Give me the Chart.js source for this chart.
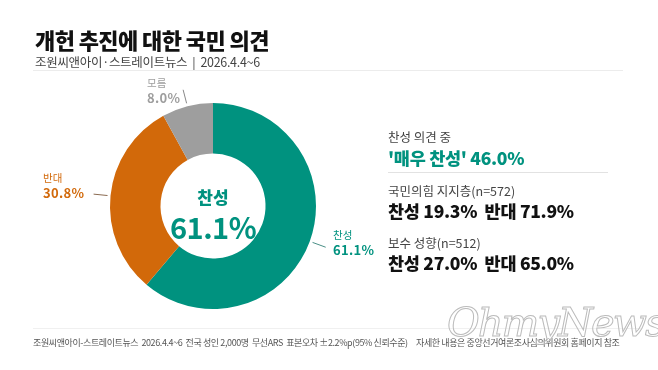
<!DOCTYPE html>
<html><head><meta charset="utf-8">
<script src="https://cdn.jsdelivr.net/npm/chart.js@4/dist/chart.umd.min.js"></script>
<style>
html,body{margin:0;padding:0;background:#fff;}
body{width:658px;height:370px;position:relative;overflow:hidden;font-family:"Noto Sans CJK KR","Noto Sans",sans-serif;}
.t{position:absolute;white-space:pre;line-height:1;}
#c{position:absolute;left:0;top:0;}
</style></head>
<body>
<canvas id="c" width="658" height="370"></canvas>
<div class="t" id="title" style="left:35px;top:28px;font-size:22px;font-weight:900;color:#111;letter-spacing:-0.6px;"></div>
<div class="t" id="sub" style="left:35px;top:56px;font-size:12.5px;color:#444;letter-spacing:-0.3px;"></div>
<div style="position:absolute;left:33px;top:70px;width:590px;height:1px;background:#ececec;"></div>
<div id="labels"></div>
<div class="t" id="cLab" style="left:213px;top:188px;transform:translateX(-50%);font-size:17px;font-weight:900;color:#00927F;"></div>
<div class="t" id="cVal" style="left:213px;top:212px;transform:translateX(-50%);font-size:29px;font-weight:700;color:#00927F;letter-spacing:-0.5px;"></div>
<div id="panel"></div>
<div style="position:absolute;left:388px;top:172px;width:220px;height:1px;background:#e2e2e2;"></div>
<div style="position:absolute;left:33px;top:328px;width:608px;height:1px;background:#f0f0f0;"></div>
<div class="t" id="foot1" style="left:33px;top:338px;font-size:9px;color:#555;letter-spacing:-0.4px;"></div>
<div class="t" id="foot2" style="left:416px;top:338px;font-size:9px;color:#555;letter-spacing:-0.4px;"></div>
<div class="t" style="left:447px;top:302px;font-size:40px;font-style:italic;font-family:'DejaVu Serif',serif;color:rgba(255,255,255,0.2);-webkit-text-stroke:1px #bbb;letter-spacing:-2px;">OhmyNews</div>
<script>
const titleText = '개헌 추진에 대한 국민 의견';
const subtitleText = '조원씨앤아이·스트레이트뉴스  |  2026.4.4~6';
const categories = ['찬성', '반대', '모름'];
const values = [61.1, 30.8, 8.0];
const colors = ['#00927F', '#D2690A', '#9E9E9E'];
const panelHeads = ['찬성 의견 중', '국민의힘 지지층(n=572)', '보수 성향(n=512)'];
const panelLines = ["'매우 찬성' 46.0%", '찬성 19.3%  반대 71.9%', '찬성 27.0%  반대 65.0%'];
const footLeft = '조원씨앤아이-스트레이트뉴스  2026.4.4~6  전국 성인 2,000명  무선ARS  표본오차 ±2.2%p(95% 신뢰수준)';
const footRight = '자세한 내용은 중앙선거여론조사심의위원회 홈페이지 참조';

document.getElementById('title').textContent = titleText;
document.getElementById('sub').textContent = subtitleText;
document.getElementById('cLab').textContent = categories[0];
document.getElementById('cVal').textContent = values[0].toFixed(1) + '%';
document.getElementById('foot1').textContent = footLeft;
document.getElementById('foot2').textContent = footRight;

const panel = document.getElementById('panel');
const headTops = [131, 185, 237];
const lineTops = [149, 202, 254];
panelHeads.forEach((h, i) => {
  const d = document.createElement('div');
  d.className = 't';
  d.style.cssText = `left:388px;top:${headTops[i]}px;font-size:12.5px;color:#444;`;
  d.textContent = h;
  panel.appendChild(d);
  const e = document.createElement('div');
  e.className = 't';
  e.style.cssText = `left:388px;top:${lineTops[i]}px;font-size:17.5px;font-weight:900;color:${i === 0 ? '#00927F' : '#111'};letter-spacing:-0.3px;`;
  e.textContent = panelLines[i];
  panel.appendChild(e);
});

const labelPos = [
  {left: 333, top: 230},
  {left: 43, top: 173},
  {left: 147, top: 78}
];
const labelsDiv = document.getElementById('labels');
categories.forEach((c, i) => {
  const p = labelPos[i];
  const a = document.createElement('div');
  a.className = 't';
  a.style.cssText = `left:${p.left}px;top:${p.top}px;font-size:10.5px;color:${colors[i]};`;
  a.textContent = c;
  labelsDiv.appendChild(a);
  const b = document.createElement('div');
  b.className = 't';
  b.style.cssText = `left:${p.left}px;top:${p.top + 13}px;font-size:13px;font-weight:700;color:${colors[i]};letter-spacing:0.3px;`;
  b.textContent = values[i].toFixed(1) + '%';
  labelsDiv.appendChild(b);
});

const leaderPlugin = {
  id: 'leaders',
  afterDatasetsDraw(chart) {
    const ctx = chart.ctx;
    const meta = chart.getDatasetMeta(0);
    meta.data.forEach((arc, i) => {
      const p = arc.getProps(['x', 'y', 'startAngle', 'endAngle', 'outerRadius'], true);
      const mid = (p.startAngle + p.endAngle) / 2;
      const r1 = p.outerRadius + 3, r2 = p.outerRadius + 17;
      ctx.save();
      ctx.strokeStyle = i === 0 ? '#4a8f86' : (i === 1 ? '#8a6a50' : '#888');
      ctx.lineWidth = 1;
      ctx.beginPath();
      ctx.moveTo(p.x + Math.cos(mid) * r1, p.y + Math.sin(mid) * r1);
      ctx.lineTo(p.x + Math.cos(mid) * r2, p.y + Math.sin(mid) * r2);
      ctx.stroke();
      ctx.restore();
    });
  }
};

new Chart(document.getElementById('c'), {
  type: 'doughnut',
  data: {
    labels: categories,
    datasets: [{ data: values, backgroundColor: colors, borderWidth: 0 }]
  },
  options: {
    responsive: false,
    animation: false,
    cutout: '51%',
    layout: { padding: { left: 110, top: 103, right: 342, bottom: 61 } },
    plugins: { legend: { display: false }, tooltip: { enabled: false } }
  },
  plugins: [leaderPlugin]
});
</script>
</body></html>
